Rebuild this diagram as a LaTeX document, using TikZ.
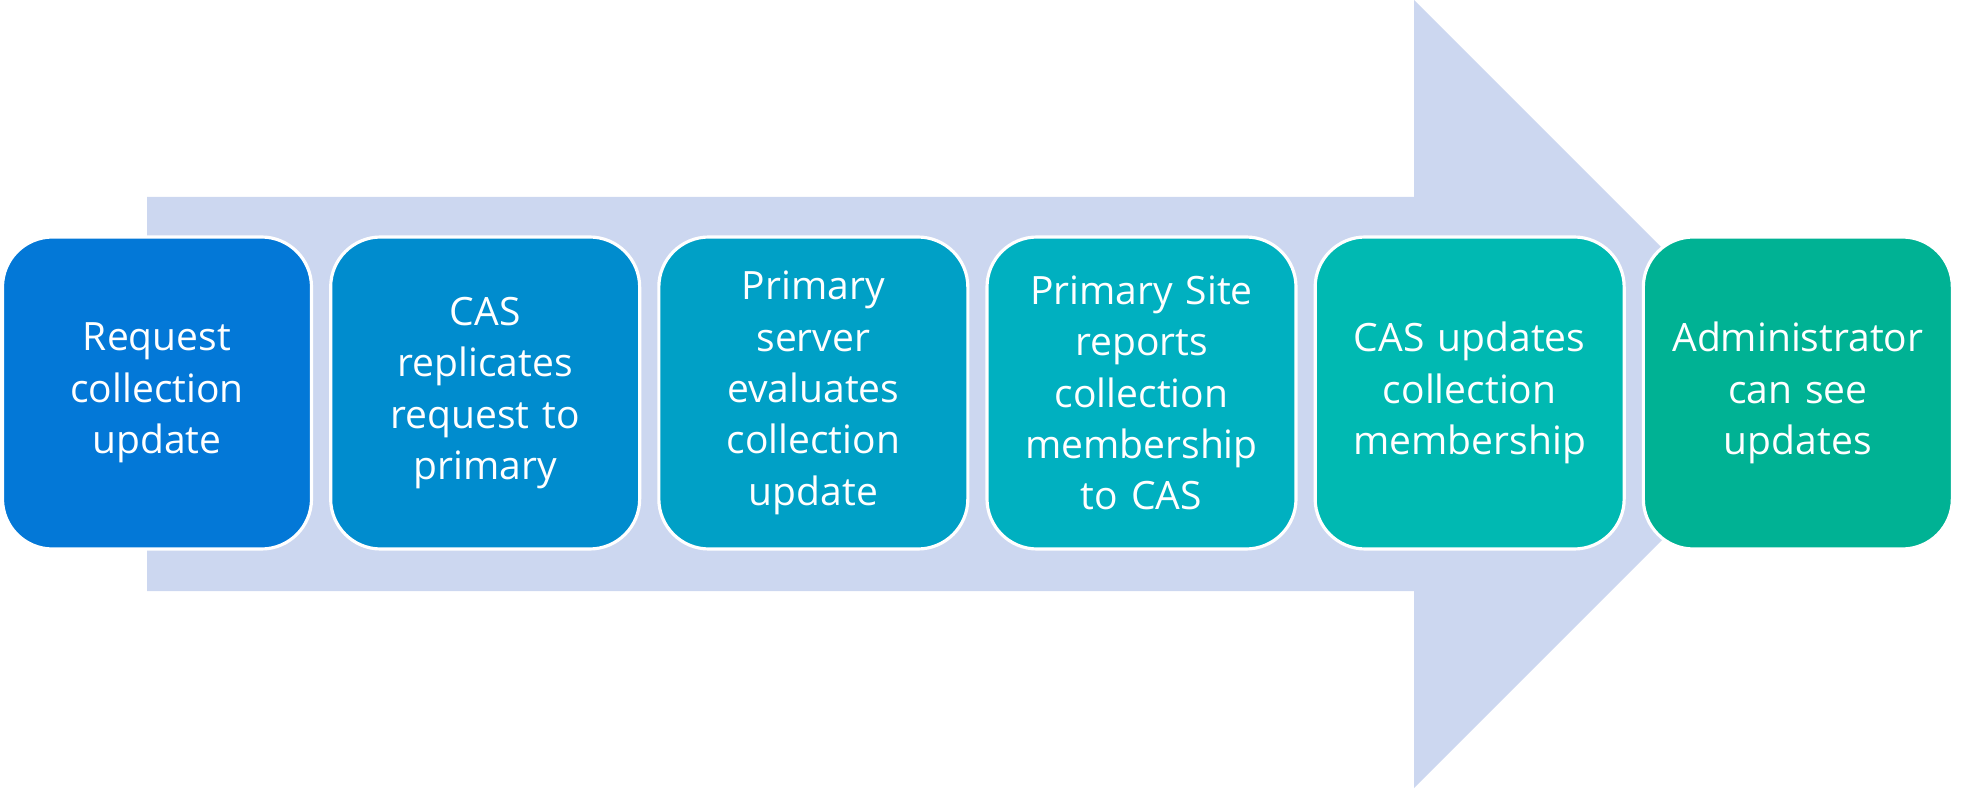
\documentclass[tikz,border=0pt]{standalone}
\usepackage{fontspec}
\setmainfont{Open Sans}
\usetikzlibrary{positioning}

\definecolor{arrowbg}{RGB}{204,215,240}
\definecolor{stepa}{RGB}{3,120,215}
\definecolor{stepb}{RGB}{0,140,206}
\definecolor{stepc}{RGB}{0,160,198}
\definecolor{stepd}{RGB}{0,176,192}
\definecolor{stepe}{RGB}{0,185,178}
\definecolor{stepf}{RGB}{0,178,148}

\begin{document}
\begin{tikzpicture}[
  stepbox/.style={draw=white, line width=0.9pt, rounded corners=0.5cm,
    minimum width=3.09cm, minimum height=3.12cm, text width=2.9cm,
    align=center, text=white, inner sep=0pt,
    font=\fontsize{11.1}{14.6}\selectfont},
  node distance=0.16cm]
\useasboundingbox (0,0) rectangle (19.64,7.88);

% big background arrow
\fill[arrowbg] (1.47,1.97) -- (1.47,5.91) -- (14.14,5.91) -- (14.14,7.88)
  -- (18.08,3.94) -- (14.14,0) -- (14.14,1.97) -- cycle;

% the six steps
\node[stepbox, fill=stepa] (request) at (1.57,3.95) {Request\\collection\\update};
\node[stepbox, fill=stepb, right=of request] (replicate) {CAS\\replicates\\request to\\primary};
\node[stepbox, fill=stepc, right=of replicate] (evaluate) {Primary\\server\\evaluates\\collection\\update};
\node[stepbox, fill=stepd, right=of evaluate] (report) {Primary Site\\reports\\collection\\membership\\to CAS};
\node[stepbox, fill=stepe, right=of report] (casupdate) {CAS updates\\collection\\membership};
\node[stepbox, fill=stepf, right=of casupdate] (admin) {Administrator\\can see\\updates};
\end{tikzpicture}
\end{document}
